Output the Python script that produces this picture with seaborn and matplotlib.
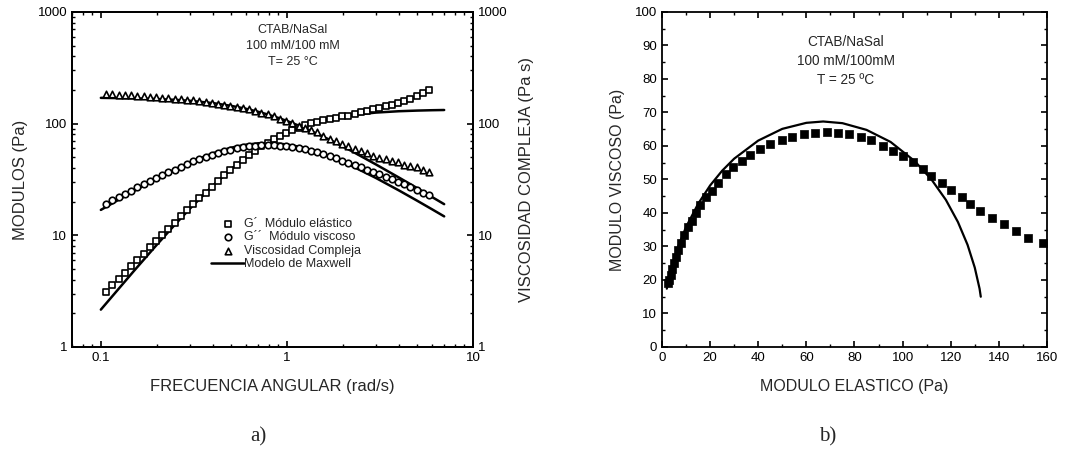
import matplotlib
matplotlib.use("Agg")
import matplotlib.pyplot as plt
from matplotlib.ticker import FuncFormatter, NullFormatter, LogLocator, MultipleLocator
import pandas as pd
import seaborn as sns

# a) barrido de frecuencia (datos leidos de la figura)
omega = [0.107, 0.1155, 0.1248, 0.1347, 0.1455, 0.1571, 0.1696, 0.1831, 0.1978, 0.2135,
         0.2306, 0.2490, 0.2689, 0.2903, 0.3135, 0.3385, 0.3655, 0.3947, 0.4262, 0.4602,
         0.4969, 0.5366, 0.5794, 0.6256, 0.6756, 0.7295, 0.7877, 0.8506, 0.9185, 0.9918,
         1.071, 1.156, 1.249, 1.348, 1.456, 1.572, 1.698, 1.833, 1.980, 2.138,
         2.308, 2.493, 2.692, 2.906, 3.138, 3.389, 3.659, 3.951, 4.267, 4.607,
         4.975, 5.372, 5.80]
g_elastico = [3.11, 3.56, 4.06, 4.64, 5.30, 6.04, 6.87, 7.82, 8.88, 10.05,
              11.38, 12.98, 14.76, 16.75, 18.96, 21.39, 24.06, 27.25, 30.73, 34.52,
              38.59, 42.95, 47.55, 52.36, 57.34, 62.42, 67.55, 72.69, 77.75, 82.69,
              87.46, 91.99, 96.32, 100.3, 104.0, 107.5, 110.6, 113.4, 116.0, 118.2,
              122.6, 126.9, 131.0, 135.6, 138.2, 142.5, 147.4, 153.5, 158.2, 165.4,
              176.6, 189.0, 201.4]
g_viscoso = [19.1, 20.5, 21.9, 23.6, 25.1, 26.9, 28.6, 30.7, 32.5, 34.8,
             36.8, 38.8, 41.2, 43.3, 45.8, 47.9, 50.4, 52.3, 54.6, 56.5,
             58.3, 60.0, 61.2, 62.4, 63.3, 63.8, 64.0, 64.1, 63.5, 62.9,
             61.9, 60.6, 59.0, 57.3, 55.3, 53.4, 50.9, 48.8, 46.7, 44.5,
             42.3, 40.5, 38.7, 37.0, 35.2, 33.4, 31.7, 30.1, 28.5, 27.0,
             25.5, 24.0, 22.9]
eta = [183.5, 182.4, 181.2, 180.0, 178.7, 177.4, 176.0, 174.5, 172.9, 171.2,
       169.4, 167.5, 165.4, 164.0, 161.6, 159.0, 156.9, 153.1, 150.6, 147.8,
       144.7, 141.4, 137.8, 133.9, 129.7, 125.3, 120.8, 116.0, 111.1, 106.1,
       101.1, 96.0, 91.8, 87.7, 83.6, 78.1, 73.0, 69.5, 65.9, 62.4,
       59.4, 57.4, 54.3, 51.8, 49.4, 48.4, 46.7, 45.1, 43.0, 41.6,
       40.8, 38.8, 36.7]

# modelo de Maxwell
omega_fit = [0.1, 0.15, 0.2, 0.25, 0.3, 0.4, 0.5, 0.6, 0.7, 0.78, 0.9,
             1.0, 1.15, 1.3, 1.7, 2.2, 3.0, 4.0, 5.0, 6.0, 7.0]
gp_fit = [2.16, 4.76, 8.24, 12.45, 17.22, 27.83, 38.94, 49.71, 59.67, 66.9, 76.42,
          83.2, 91.69, 98.45, 110.6, 119.0, 125.5, 129.1, 130.8, 131.8, 132.4]
gpp_fit = [16.88, 24.81, 32.19, 38.90, 44.85, 54.36, 60.84, 64.73, 66.60, 67.0, 66.34,
           65.0, 62.29, 59.16, 50.84, 42.26, 32.68, 25.21, 20.44, 17.16, 14.77]
eta_fit = [170.1, 168.4, 166.1, 163.3, 160.1, 152.7, 144.4, 136.0, 127.7, 121.4, 112.4,
           105.6, 96.4, 88.3, 71.6, 57.4, 43.2, 32.9, 26.5, 22.1, 19.0]

# b) Cole-Cole
cc_elastico = [2.7, 3.1, 3.6, 4.3, 4.9, 5.7, 6.7, 7.7, 9.1, 10.7,
               12.3, 14.0, 16.0, 18.3, 20.7, 23.3, 26.4, 29.7, 33.1, 36.4,
               40.7, 44.7, 49.9, 54.2, 58.9, 63.6, 68.6, 73.0, 77.7, 82.7,
               86.9, 91.7, 95.9, 100.3, 104.4, 108.3, 112.0, 116.3, 120.1, 124.5,
               128.2, 132.1, 137.2, 142.2, 147.3, 152.1, 158.4]
cc_viscoso = [19.0, 20.0, 21.5, 23.3, 25.0, 27.0, 29.0, 31.0, 33.5, 35.7,
              37.7, 40.0, 42.3, 44.7, 46.7, 49.0, 51.5, 53.7, 55.5, 57.3,
              59.0, 60.5, 61.8, 62.8, 63.6, 63.9, 64.1, 63.9, 63.6, 62.6,
              61.8, 59.9, 58.4, 57.1, 55.1, 53.1, 50.9, 48.9, 46.8, 44.9,
              42.6, 40.6, 38.6, 36.8, 34.6, 32.6, 31.0]
cc_fit_x = [2.0, 4.0, 7.0, 10.0, 15.0, 20.0, 25.0, 30.0, 40.0, 50.0, 60.0, 67.0,
            75.0, 85.0, 95.0, 105.0, 112.0, 118.0, 123.0, 127.0, 130.0, 132.0, 132.5]
cc_fit_y = [17.4, 23.7, 30.5, 35.8, 42.7, 48.2, 52.6, 56.2, 61.6, 65.1, 66.9, 67.3,
            66.8, 64.8, 61.2, 55.5, 50.0, 43.9, 37.3, 30.5, 23.7, 17.4, 15.0]

df = pd.DataFrame({"omega": omega, "Gp": g_elastico, "Gpp": g_viscoso, "eta": eta})
fit = pd.DataFrame({"omega": omega_fit, "Gp": gp_fit, "Gpp": gpp_fit, "eta": eta_fit})
cc = pd.DataFrame({"Gp": cc_elastico, "Gpp": cc_viscoso})
cc_fit = pd.DataFrame({"Gp": cc_fit_x, "Gpp": cc_fit_y})

sns.set_theme(style="ticks")
plt.rcParams["font.family"] = ["Liberation Sans", "DejaVu Sans"]
plt.rcParams.update({
    "xtick.direction": "in", "ytick.direction": "in",
    "xtick.top": True, "ytick.right": True,
    "axes.linewidth": 1.3, "axes.edgecolor": "black",
    "xtick.major.size": 4, "ytick.major.size": 4,
    "xtick.minor.size": 2.2, "ytick.minor.size": 2.2,
    "xtick.major.width": 1.2, "ytick.major.width": 1.2,
    "xtick.color": "black", "ytick.color": "black",
    "xtick.labelsize": 9.5, "ytick.labelsize": 9.5,
})

fig = plt.figure(figsize=(10.75, 4.66), dpi=100)
ax1 = fig.add_axes([0.067, 0.2554, 0.373, 0.719])
ax2 = fig.add_axes([0.6158, 0.2554, 0.3581, 0.719])

# ---- panel a)
ax1.set_xscale("log")
ax1.set_yscale("log")
mk = dict(color="white", edgecolor="black", linewidth=1.2, s=22, ax=ax1, zorder=3)
sns.scatterplot(data=df, x="omega", y="Gp", marker="s", label="G´  Módulo elástico", **mk)
sns.scatterplot(data=df, x="omega", y="Gpp", marker="o", label="G´´  Módulo viscoso", **mk)
sns.scatterplot(data=df, x="omega", y="eta", marker="^", label="Viscosidad Compleja", **mk)
for i, col in enumerate(["Gp", "Gpp", "eta"]):
    sns.lineplot(data=fit, x="omega", y=col, color="black", linewidth=1.8, ax=ax1,
                 label="Modelo de Maxwell" if i == 0 else None, zorder=2)

fmt = FuncFormatter(lambda v, _: f"{v:g}")
ax1.set_xlim(0.07, 10)
ax1.set_ylim(1, 1000)
ax1.xaxis.set_major_formatter(fmt)
ax1.yaxis.set_major_formatter(fmt)
ax1.xaxis.set_minor_formatter(NullFormatter())
ax1.yaxis.set_minor_formatter(NullFormatter())
ax1.tick_params(which="both", right=False)
ax1.set_xlabel("FRECUENCIA ANGULAR (rad/s)", fontsize=12, labelpad=11)
ax1.set_ylabel("MODULOS (Pa)", fontsize=12, labelpad=7)
ax1.text(0.55, 0.965, "CTAB/NaSal\n100 mM/100 mM\nT= 25 °C", transform=ax1.transAxes,
         ha="center", va="top", fontsize=9, linespacing=1.45)
ax1.legend(loc="upper left", bbox_to_anchor=(0.335, 0.40), frameon=False, fontsize=9,
           handlelength=2.6, handletextpad=0.0, labelspacing=0.12, borderaxespad=0)

ax1b = ax1.twinx()
ax1b.set_yscale("log")
ax1b.set_ylim(1, 1000)
ax1b.yaxis.set_major_formatter(fmt)
ax1b.yaxis.set_minor_formatter(NullFormatter())
ax1b.yaxis.set_minor_locator(LogLocator(subs=range(2, 10)))
ax1b.tick_params(which="both", direction="in")
ax1b.set_ylabel("VISCOSIDAD COMPLEJA (Pa s)", fontsize=12, labelpad=8)

# ---- panel b)
sns.lineplot(data=cc_fit, x="Gp", y="Gpp", sort=False, color="black", linewidth=1.6, ax=ax2)
sns.scatterplot(data=cc, x="Gp", y="Gpp", marker="s", color="black", edgecolor="black",
                s=38, ax=ax2, zorder=3)
ax2.set_xlim(0, 160)
ax2.set_ylim(0, 100)
ax2.xaxis.set_major_locator(MultipleLocator(20))
ax2.xaxis.set_minor_locator(MultipleLocator(10))
ax2.yaxis.set_major_locator(MultipleLocator(10))
ax2.yaxis.set_minor_locator(MultipleLocator(5))
ax2.set_xlabel("MODULO ELASTICO (Pa)", fontsize=11.5, labelpad=11)
ax2.set_ylabel("MODULO VISCOSO (Pa)", fontsize=11.5, labelpad=7)
ax2.text(0.477, 0.93, "CTAB/NaSal\n100 mM/100mM\nT = 25 ºC", transform=ax2.transAxes,
         ha="center", va="top", fontsize=9.8, linespacing=1.45)

fig.text(0.24, 0.062, "a)", ha="center", va="center", fontsize=15, family="Liberation Serif")
fig.text(0.770, 0.062, "b)", ha="center", va="center", fontsize=15, family="Liberation Serif")

fig.savefig("out.png", dpi=100)
